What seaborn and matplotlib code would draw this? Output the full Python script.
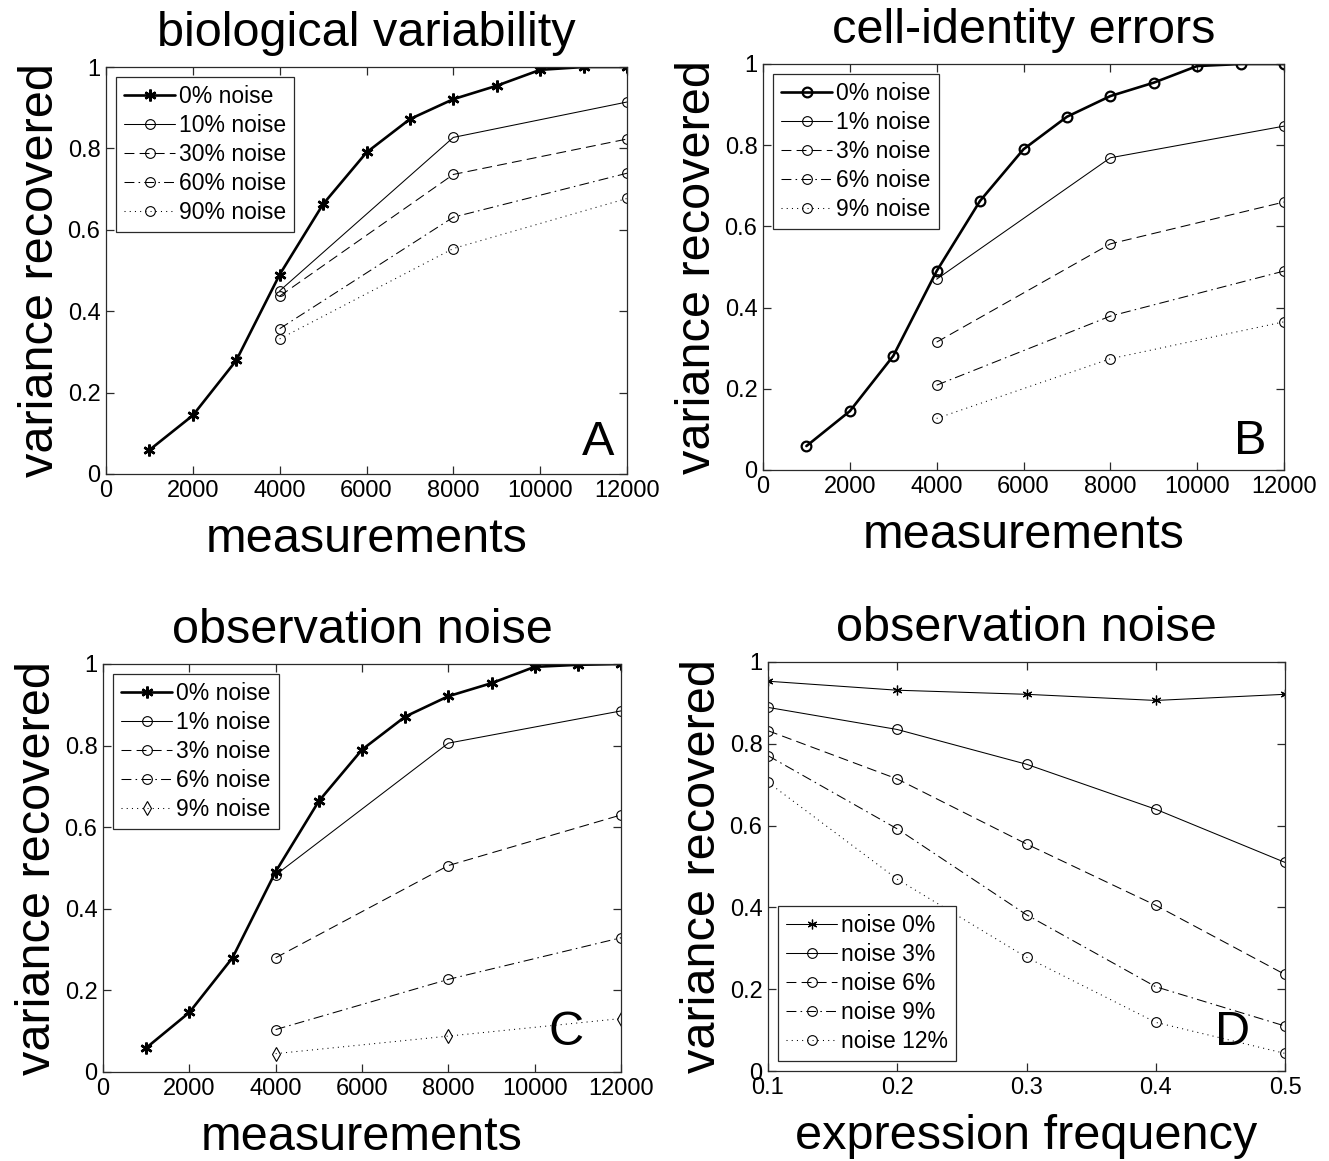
import matplotlib
matplotlib.use("Agg")
import matplotlib.pyplot as plt
import seaborn as sns

# ---------------- data ----------------
meas_full = [1000, 2000, 3000, 4000, 5000, 6000, 7000, 8000, 9000, 10000, 11000, 12000]
meas_sub = [4000, 8000, 12000]

# Panel A: biological variability
a_labels = ["0% noise", "10% noise", "30% noise", "60% noise", "90% noise"]
a_0 = [0.059, 0.144, 0.279, 0.49, 0.663, 0.79, 0.872, 0.921, 0.954, 0.993, 1.0, 1.0]
a_10 = [0.45, 0.827, 0.914]
a_30 = [0.437, 0.736, 0.823]
a_60 = [0.357, 0.631, 0.739]
a_90 = [0.332, 0.554, 0.677]

# Panel B: cell-identity errors
b_labels = ["0% noise", "1% noise", "3% noise", "6% noise", "9% noise"]
b_0 = [0.059, 0.145, 0.281, 0.49, 0.663, 0.79, 0.87, 0.921, 0.954, 0.995, 1.0, 1.0]
b_1 = [0.47, 0.769, 0.847]
b_3 = [0.315, 0.557, 0.66]
b_6 = [0.209, 0.379, 0.49]
b_9 = [0.127, 0.274, 0.365]

# Panel C: observation noise
c_labels = ["0% noise", "1% noise", "3% noise", "6% noise", "9% noise"]
c_0 = [0.059, 0.146, 0.28, 0.491, 0.664, 0.79, 0.871, 0.921, 0.953, 0.993, 0.998, 1.0]
c_1 = [0.483, 0.806, 0.885]
c_3 = [0.28, 0.506, 0.63]
c_6 = [0.104, 0.227, 0.329]
c_9 = [0.045, 0.088, 0.131]

# Panel D: observation noise vs expression frequency
freq = [0.1, 0.2, 0.3, 0.4, 0.5]
d_labels = ["noise 0%", "noise 3%", "noise 6%", "noise 9%", "noise 12%"]
d_0 = [0.953, 0.931, 0.921, 0.906, 0.921]
d_3 = [0.889, 0.835, 0.75, 0.64, 0.51]
d_6 = [0.832, 0.714, 0.555, 0.405, 0.236]
d_9 = [0.771, 0.592, 0.382, 0.206, 0.11]
d_12 = [0.706, 0.469, 0.278, 0.119, 0.043]

titles = ["biological variability", "cell-identity errors", "observation noise", "observation noise"]
xlabels = ["measurements", "measurements", "measurements", "expression frequency"]
ylabel = "variance recovered"
panel_letters = ["A", "B", "C", "D"]
meas_ticks = [0, 2000, 4000, 6000, 8000, 10000, 12000]
freq_ticks = [0.1, 0.2, 0.3, 0.4, 0.5]
y_ticks = [0, 0.2, 0.4, 0.6, 0.8, 1.0]
y_ticklabels = ["0", "0.2", "0.4", "0.6", "0.8", "1"]

# ---------------- style ----------------
sns.set_theme(style="white")
plt.rcParams["font.family"] = ["Liberation Sans", "Arial", "DejaVu Sans"]
plt.rcParams["axes.edgecolor"] = "#2a2a2a"
plt.rcParams["axes.linewidth"] = 0.9
plt.rcParams["text.color"] = "black"
plt.rcParams["axes.labelcolor"] = "black"
plt.rcParams["axes.titlecolor"] = "black"

W, H = 1329, 1161
fig = plt.figure(figsize=(W / 100, H / 100), dpi=100)
fig.patch.set_facecolor("white")


def add_axes(l, r, t, b):
    return fig.add_axes([l / W, 1 - b / H, (r - l) / W, (b - t) / H])


axA = add_axes(106, 627, 67, 474)
axB = add_axes(763, 1284, 64, 470)
axC = add_axes(103, 621, 664, 1072)
axD = add_axes(768, 1285, 662, 1071)

THICK = 1.9
THIN = 0.75
MS = 7
STAR = (6, 2, 0)


def series(ax, x, y, label, ls, lw, marker, ms=MS, mew=0.8):
    sns.lineplot(x=x, y=y, ax=ax, color="black", linestyle=ls, linewidth=lw,
                 marker=marker, markersize=ms, markerfacecolor="none",
                 markeredgecolor="black", markeredgewidth=mew, label=label,
                 sort=False, legend=False, errorbar=None)


dashes = (0, (9.5, 5))
dashdot = (0, (9.5, 4, 1.5, 4))
dotted = (0, (1, 4))

# A
series(axA, meas_full, a_0, a_labels[0], "-", THICK, STAR, ms=8.5, mew=1.8)
series(axA, meas_sub, a_10, a_labels[1], "-", THIN, "o")
series(axA, meas_sub, a_30, a_labels[2], dashes, THIN, "o")
series(axA, meas_sub, a_60, a_labels[3], dashdot, THIN, "o")
series(axA, meas_sub, a_90, a_labels[4], dotted, THIN, "o")

# B
series(axB, meas_full, b_0, b_labels[0], "-", THICK, "o", mew=1.6)
series(axB, meas_sub, b_1, b_labels[1], "-", THIN, "o")
series(axB, meas_sub, b_3, b_labels[2], dashes, THIN, "o")
series(axB, meas_sub, b_6, b_labels[3], dashdot, THIN, "o")
series(axB, meas_sub, b_9, b_labels[4], dotted, THIN, "o")

# C
series(axC, meas_full, c_0, c_labels[0], "-", THICK, STAR, ms=8.5, mew=1.8)
series(axC, meas_sub, c_1, c_labels[1], "-", THIN, "o")
series(axC, meas_sub, c_3, c_labels[2], dashes, THIN, "o")
series(axC, meas_sub, c_6, c_labels[3], dashdot, THIN, "o")
series(axC, meas_sub, c_9, c_labels[4], dotted, THIN, "d")

# D
series(axD, freq, d_0, d_labels[0], "-", THIN, STAR, ms=7, mew=0.9)
series(axD, freq, d_3, d_labels[1], "-", THIN, "o")
series(axD, freq, d_6, d_labels[2], dashes, THIN, "o")
series(axD, freq, d_9, d_labels[3], dashdot, THIN, "o")
series(axD, freq, d_12, d_labels[4], dotted, THIN, "o")

BIG = 35
TICK = 17
LEG = 16.5
letter_pos = [(0.944, 0.077), (0.935, 0.07), (0.894, 0.098), (0.898, 0.095)]

for i, ax in enumerate([axA, axB, axC, axD]):
    if i < 3:
        ax.set_xlim(0, 12000)
        ax.set_xticks(meas_ticks)
        ax.set_xticklabels([str(t) for t in meas_ticks])
    else:
        ax.set_xlim(0.1, 0.5)
        ax.set_xticks(freq_ticks)
        ax.set_xticklabels([f"{t:.1f}" for t in freq_ticks])
    ax.set_ylim(0, 1)
    ax.set_yticks(y_ticks)
    ax.set_yticklabels(y_ticklabels)
    ax.tick_params(direction="in", length=6, width=0.9, top=True, right=True,
                   bottom=True, left=True, labelsize=TICK, colors="#2a2a2a",
                   labelcolor="black", pad=4)
    for s in ax.spines.values():
        s.set_visible(True)
        s.set_color("#2a2a2a")
    ax.set_title(titles[i], fontsize=BIG, pad=15, color="black")
    ax.set_xlabel(xlabels[i], fontsize=BIG, labelpad=11, color="black")
    ax.set_ylabel(ylabel, fontsize=BIG, labelpad=3, color="black")
    lx, ly = letter_pos[i]
    ax.text(lx, ly, panel_letters[i], transform=ax.transAxes, fontsize=BIG,
            ha="center", va="center", color="black")
    loc = "upper left" if i < 3 else "lower left"
    leg = ax.legend(loc=loc, fontsize=LEG, frameon=True, fancybox=False,
                    edgecolor="#2a2a2a", framealpha=1, handlelength=2.2,
                    handletextpad=0.2, labelspacing=0.26, borderpad=0.35,
                    borderaxespad=0.45)
    for t in leg.get_texts():
        t.set_color("black")
    leg.get_frame().set_linewidth(0.9)

fig.savefig("out.png", dpi=100, facecolor="white")
